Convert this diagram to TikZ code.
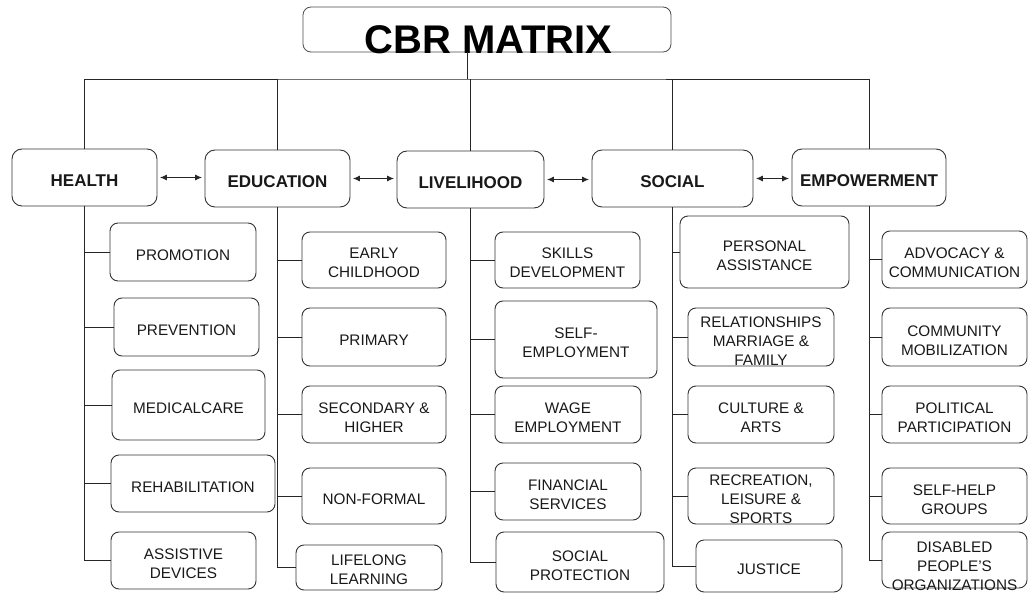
\documentclass[tikz,border=0pt]{standalone}
\usepackage{fontspec}
\setmainfont{Liberation Sans}
\usetikzlibrary{arrows.meta}
\tikzset{
  sub/.style={draw=black!80, line width=0.9pt, rounded corners=8pt, inner sep=0pt, fill=white},
  topbox/.style={draw=black!80, line width=0.9pt, rounded corners=10pt, inner sep=0pt, fill=white},
  subtxt/.style={font=\fontsize{15.3}{19}\selectfont, align=center, inner sep=0pt, text=black!90},
  toptxt/.style={font=\fontsize{17}{20}\selectfont\bfseries, inner sep=0pt, text=black!90},
  conn/.style={draw=black!85, line width=0.9pt},
  arr/.style={conn, {Latex[length=7pt,width=6pt]}-{Latex[length=7pt,width=6pt]}, shorten <=2.5pt, shorten >=2.5pt}
}
\newcommand\mkbox[7]{%
  \node[sub, minimum width=#4pt, minimum height=#5pt] (#1) at (#2,#3) {};
  \node[subtxt] (#1t) at ([yshift=-#6pt]#1.center) {#7};}
\newcommand\mktop[6]{%
  \node[topbox, minimum width=#4pt, minimum height=#5pt] (#1) at (#2,#3) {};
  \node[toptxt] (#1t) at ([yshift=-3.5pt]#1.center) {#6};}
\begin{document}
\begin{tikzpicture}[x=1pt, y=-1pt]
\path[fill=white] (0,0) rectangle (1036,594);
\useasboundingbox (0,0) rectangle (1036,594);

% title
\node[draw=black!70, line width=0.8pt, rounded corners=8pt, minimum width=368pt, minimum height=45pt, inner sep=0pt] (tit) at (487,29.5) {};
\node[font=\fontsize{40}{44}\selectfont\bfseries, inner sep=0pt] (titt) at (488.5,40) {CBR MATRIX};

% top boxes
\mktop{h}{84.5}{177.5}{145}{57}{HEALTH}
\mktop{e}{277.5}{178.5}{145}{57}{EDUCATION}
\mktop{l}{470.5}{179.5}{147}{57}{LIVELIHOOD}
\mktop{s}{672.5}{178.5}{161}{57}{SOCIAL}
\mktop{m}{869}{177.5}{154}{57}{EMPOWERMENT}

% bus
\coordinate (bus) at (467,79);
\draw[conn] (bus |- tit.south) -- (bus);
\draw[conn] (h.north) |- (bus) -| (m.north);
\draw[conn] (e.north |- bus) -- (e.north);
\draw[conn] (l.north |- bus) -- (l.north);
\draw[conn] (s.north |- bus) -- (s.north);

% arrows
\draw[arr] (h.east) -- (h.east -| e.west);
\draw[arr] (e.east) -- (e.east -| l.west);
\draw[arr] (l.east) -- (l.east -| s.west);
\draw[arr] (s.east) -- (s.east -| m.west);

% health column
\mkbox{h1}{183}{252}{146}{58}{3.5}{PROMOTION}
\mkbox{h2}{186.5}{327}{145}{58}{3.5}{PREVENTION}
\mkbox{h3}{188.5}{405}{153}{70}{3.5}{MEDICALCARE}
\mkbox{h4}{193}{483.5}{164}{57}{3.5}{REHABILITATION}
\mkbox{h5}{183.5}{560.5}{145}{57}{3.5}{ASSISTIVE\\DEVICES}

% education column
\mkbox{e1}{374}{260}{144}{56}{3}{EARLY\\CHILDHOOD}
\mkbox{e2}{374}{337}{144}{58}{3.5}{PRIMARY}
\mkbox{e3}{374}{414.5}{144}{57}{3.5}{SECONDARY \&\\HIGHER}
\mkbox{e4}{374}{496}{144}{56}{3.5}{NON-FORMAL}
\mkbox{e5}{369}{567.5}{146}{45}{2.5}{LIFELONG\\LEARNING}

% livelihood column
\mkbox{l1}{567.5}{260}{145}{56}{3}{SKILLS\\DEVELOPMENT}
\mkbox{l2}{576}{339.5}{162}{77}{3.5}{SELF-\\EMPLOYMENT}
\mkbox{l3}{568}{414.5}{146}{57}{3.5}{WAGE\\EMPLOYMENT}
\mkbox{l4}{568}{491.5}{146}{57}{3.5}{FINANCIAL\\SERVICES}
\mkbox{l5}{580}{562}{168}{60}{3.5}{SOCIAL\\PROTECTION}

% social column
\mkbox{s1}{764.5}{252}{169}{72}{3.5}{PERSONAL\\ASSISTANCE}
\mkbox{s2}{761}{337}{146}{58}{4}{RELATIONSHIPS\\MARRIAGE \&\\FAMILY}
\mkbox{s3}{761}{414.5}{146}{57}{3.5}{CULTURE \&\\ARTS}
\mkbox{s4}{761}{496}{146}{56}{3.5}{RECREATION,\\LEISURE \&\\SPORTS}
\mkbox{s5}{769}{566}{146}{52}{3.5}{JUSTICE}

% empowerment column
\mkbox{m1}{954.5}{259.5}{145}{57}{3.5}{ADVOCACY \&\\COMMUNICATION}
\mkbox{m2}{954.5}{337}{145}{58}{3.5}{COMMUNITY\\MOBILIZATION}
\mkbox{m3}{954.5}{414.5}{145}{57}{3.5}{POLITICAL\\PARTICIPATION}
\mkbox{m4}{954.5}{496}{145}{56}{3.5}{SELF-HELP\\GROUPS}
\mkbox{m5}{954.5}{560}{145}{56}{6}{DISABLED\\PEOPLE'S\\ORGANIZATIONS}

% trunks and branches
\foreach \c in {h,e,l,s,m}{
  \draw[conn] (\c.south) |- (\c5.west);
  \foreach \i in {1,2,3,4}{
    \draw[conn] (\c.south |- \c\i.west) -- (\c\i.west);
  }
}
\end{tikzpicture}
\end{document}
